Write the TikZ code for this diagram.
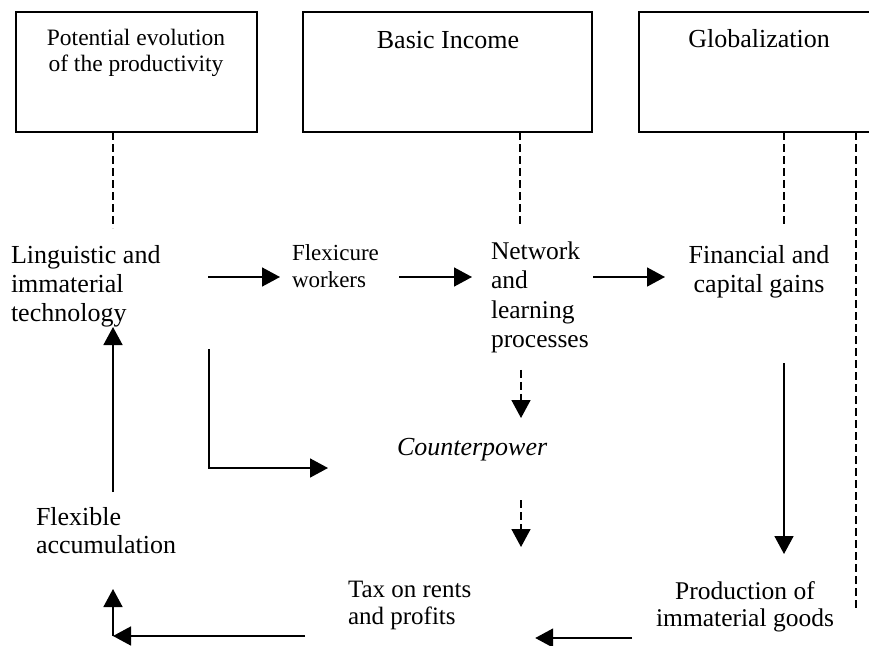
\documentclass[tikz,border=0pt]{standalone}
\usepackage{fontspec}
\setmainfont{Liberation Serif}
\usetikzlibrary{arrows.meta}
\newcommand\leftlines[1]{\begin{tabular}[t]{@{}l@{}}#1\end{tabular}}
\newcommand\centerlines[1]{\begin{tabular}[t]{@{}c@{}}#1\end{tabular}}
\begin{document}
\begin{tikzpicture}[x=1pt,y=-1pt,
  every node/.style={inner sep=0pt, outer sep=0pt},
  box/.style={draw, line width=1.6pt, anchor=north west},
  txt/.style={font=\fontsize{26}{29}\selectfont, anchor=base west},
  ctxt/.style={font=\fontsize{26}{29}\selectfont, anchor=base},
  arr/.style={line width=1.6pt, -{Triangle[length=18pt,width=19pt]}},
  dsh/.style={line width=1.6pt, dash pattern=on 8pt off 4pt},
  darr/.style={dsh, -{Triangle[length=18pt,width=19pt]}},
]
\useasboundingbox (0,0) rectangle (869,645);
\clip (0,0) rectangle (869,645);

% top boxes
\node[box, minimum width=241pt, minimum height=120pt] (b1) at (16,12) {};
\node[box, minimum width=289pt, minimum height=120pt] (b2) at (303,12) {};
\node[box, minimum width=241pt, minimum height=120pt] (b3) at (639,12) {};
\node[ctxt, font=\fontsize{23.5}{26}\selectfont] (b1t) at (136,45) {\centerlines{Potential evolution\\of the productivity}};
\node[ctxt] (b2t) at (448,48) {Basic Income};
\node[ctxt] (b3t) at (759,47) {Globalization};

% texts
\node[txt] (ling) at (11,263) {\leftlines{Linguistic and\\immaterial\\technology}};
\node[txt, font=\fontsize{23}{27}\selectfont] (flex) at (292,260) {\leftlines{Flexicure\\workers}};
\node[txt, font=\fontsize{25.5}{29.5}\selectfont] (net) at (491,259) {\leftlines{Network\\and\\learning\\processes}};
\node[ctxt] (fin) at (759,263) {\centerlines{Financial and\\capital gains}};
\node[txt, font=\fontsize{26}{29}\selectfont\itshape] (count) at (397,455) {Counterpower};
\node[txt, font=\fontsize{25}{27}\selectfont] (tax) at (348,597) {\leftlines{Tax on rents\\and profits}};
\node[ctxt, font=\fontsize{25.5}{27}\selectfont] (prod) at (745,599) {\centerlines{Production of\\immaterial goods}};
\node[txt, font=\fontsize{26}{28}\selectfont] (facc) at (36,525) {\leftlines{Flexible\\accumulation}};
\coordinate (corner) at (113,636);

% dashed links from the boxes
\draw[dsh, shorten >=14.7pt] (b1.south -| 113,0) -- (ling.north -| 113,0);
\draw[dsh, shorten >=12.3pt] (b2.south -| 520,0) -- (net.north -| 520,0);
\draw[dsh, shorten >=15.7pt] (b3.south -| 784,0) -- (fin.north -| 784,0);
\draw[dsh, shorten >=-9pt] (b3.south -| 856,0) -- (prod.base -| 856,0);

% main row arrows
\draw[arr, shorten <=197pt, shorten >=12pt] (ling.west |- 0,277) -- (flex.west |- 0,277);
\draw[arr, shorten <=107pt, shorten >=19pt] (flex.west |- 0,277) -- (net.west |- 0,277);
\draw[arr, shorten <=102pt, shorten >=94pt] (net.west |- 0,277) -- (fin.base |- 0,277);

% dashed arrows through counterpower
\draw[darr, shorten <=13.6pt, shorten >=37pt] (net.south -| 521,0) -- (count.base -| 521,0);
\draw[darr, shorten <=45pt, shorten >=50pt] (count.base -| 521,0) -- (tax.base -| 521,0);

% L-shaped arrow
\draw[arr, shorten <=19.3pt, shorten >=69pt] (ling.south -| 209,0) |- (count.west |- 0,468);

% right side down
\draw[arr, shorten <=100pt, shorten >=45pt] (fin.base -| 784,0) -- (prod.base -| 784,0);

% bottom
\draw[arr, shorten <=113pt, shorten >=64pt] (prod.base |- 0,638) -- (tax.east |- 0,638);
\draw[arr, shorten <=43pt] (tax.west |- 0,636) -- (corner);
\draw[arr, shorten >=27.6pt] (corner) -- (corner |- facc.south);

% left up
\draw[arr, shorten <=13.4pt, shorten >=-2.7pt] (facc.north -| 113,0) -- (ling.south -| 113,0);
\end{tikzpicture}
\end{document}
